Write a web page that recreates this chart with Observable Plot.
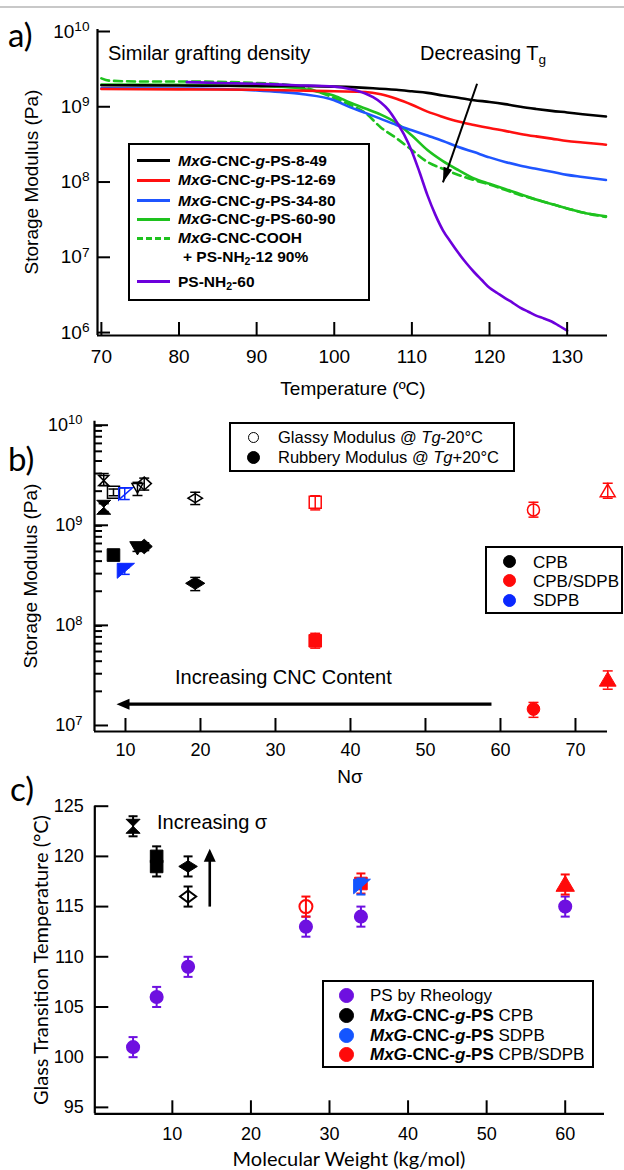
<!DOCTYPE html>
<html>
<head>
<meta charset="utf-8">
<script src="https://cdn.jsdelivr.net/npm/d3@7"></script>
<script src="https://cdn.jsdelivr.net/npm/@observablehq/plot@0.6"></script>
<style>
html,body{margin:0;padding:0;background:#fff;}
#root{position:relative;width:624px;height:1170px;overflow:hidden;background:#fff;font-family:"Liberation Sans",Arial,sans-serif;color:#000;}
.panel{position:absolute;left:0;}
.t{position:absolute;white-space:nowrap;line-height:1;z-index:5;}
.t sub{font-size:0.68em;vertical-align:-0.3em;line-height:0;}
.box{position:absolute;border:2px solid #000;box-sizing:border-box;z-index:4;background:transparent;}
.sw{position:absolute;height:0;z-index:5;}
.dotk{position:absolute;border-radius:50%;box-sizing:border-box;z-index:5;}
</style>
</head>
<body>
<div id="root"></div>
<script>
// ================= DATA =================
// ---- Panel a: storage modulus (Pa) vs temperature (°C)
const a849T  = [70,80,90,95,100,105,108,110,112,114,116,118,120,122,124,126,128,130,132,135];
const a849E  = [1.82e9,1.80e9,1.78e9,1.78e9,1.74e9,1.66e9,1.58e9,1.51e9,1.44e9,1.33e9,1.24e9,1.15e9,1.09e9,1.02e9,9.4e8,8.8e8,8.3e8,7.9e8,7.5e8,7.0e8];
const a1269T = [70,80,90,95,100,104,106,108,110,112,114,116,118,120,122,124,126,128,130,132,135];
const a1269E = [1.62e9,1.60e9,1.58e9,1.55e9,1.51e9,1.48e9,1.38e9,1.20e9,1.0e9,8.1e8,6.9e8,6.0e8,5.4e8,4.9e8,4.5e8,4.1e8,3.8e8,3.55e8,3.3e8,3.16e8,2.95e8];
const a3480T = [70,80,85,90,93,96,100,102,104,106,108,110,112,114,116,118,120,122,124,126,128,130,132,135];
const a3480E = [1.66e9,1.64e9,1.62e9,1.55e9,1.48e9,1.38e9,1.15e9,9.3e8,7.8e8,6.5e8,5.4e8,4.6e8,3.9e8,3.3e8,2.75e8,2.35e8,2.0e8,1.74e8,1.55e8,1.41e8,1.29e8,1.17e8,1.10e8,1.0e8];
const a6090T = [70,80,90,95,98,100,102,104,106,108,110,112,114,116,118,120,122,124,126,128,130,132,135];
const a6090E = [1.86e9,1.84e9,1.76e9,1.68e9,1.48e9,1.32e9,1.07e9,8.9e8,7.4e8,5.75e8,3.9e8,2.5e8,1.78e8,1.35e8,1.05e8,8.9e7,7.6e7,6.5e7,5.5e7,4.8e7,4.2e7,3.7e7,3.3e7];
const aCoohT = [70,71,75,80,90,95,98,100,102,104,106,108,110,112,114,116,118,120,122,124,126,128,130,132,135];
const aCoohE = [2.24e9,2.09e9,2.04e9,2.04e9,1.95e9,1.78e9,1.48e9,1.23e9,1.0e9,7.8e8,5.0e8,3.6e8,2.5e8,1.74e8,1.41e8,1.17e8,1.0e8,8.7e7,7.4e7,6.3e7,5.5e7,4.8e7,4.2e7,3.7e7,3.24e7];
const aPs60T = [81,85,90,95,100,102,104,105,106,107,108,109,110,111,112,113,114,115,116,117,118,119,120,121,122,123,124,125,126,127,128,129,130];
const aPs60E = [2.0e9,1.95e9,1.9e9,1.82e9,1.74e9,1.62e9,1.41e9,1.26e9,1.07e9,8.5e8,6.0e8,4.0e8,2.4e8,1.26e8,6.3e7,3.5e7,2.15e7,1.5e7,1.07e7,7.9e6,6.0e6,4.7e6,3.7e6,3.16e6,2.7e6,2.34e6,2.0e6,1.78e6,1.58e6,1.45e6,1.32e6,1.15e6,1.0e6];
const aSeriesNames = ["MxG-CNC-g-PS-8-49","MxG-CNC-g-PS-12-69","MxG-CNC-g-PS-34-80","MxG-CNC-g-PS-60-90","MxG-CNC-COOH + PS-NH2-12 90%","PS-NH2-60"];
const aTicksX = [70,80,90,100,110,120,130];
const aTicksY = [1e6,1e7,1e8,1e9,1e10];
const aDomainX = [69.5,135.2];
const aDomainY = [8.6e5,1e10];
const aArrow = {x1:118.4, y1:1.9e9, x2:114.0, y2:9.3e7};

// ---- Panel b: modulus vs Nσ
const bN         = [7.1, 8.4, 9.9, 11.6, 12.5, 19.3, 35.3, 64.4, 74.3];
const bProcess   = ["CPB","CPB","SDPB","CPB","CPB","CPB","CPB/SDPB","CPB/SDPB","CPB/SDPB"];
const bSymbol    = ["hourglass","square","flag","triDown","rhombus","diamond","square","circle","triUp"];
const bGlassy    = [2.55e9,1.95e9,1.88e9,2.17e9,2.38e9,1.70e9,1.55e9,1.30e9,2.00e9];
const bGlassyLo  = [2.27e9,1.80e9,1.65e9,1.81e9,2.05e9,1.47e9,1.30e9,1.10e9,1.70e9];
const bGlassyHi  = [3.00e9,2.10e9,2.15e9,2.45e9,2.70e9,1.95e9,1.80e9,1.55e9,2.40e9];
const bRubbery   = [1.38e9,4.6e8,3.2e8,5.5e8,5.6e8,2.4e8,6.4e7,1.33e7,2.6e7];
const bRubberyLo = [1.25e9,4.2e8,2.95e8,5.0e8,5.1e8,2.03e8,5.4e7,1.10e7,2.1e7];
const bRubberyHi = [1.50e9,5.1e8,3.45e8,6.1e8,6.1e8,2.75e8,7.6e7,1.55e7,3.2e7];
const bTicksX = [10,20,30,40,50,60,70];
const bTicksY = [1e7,1e8,1e9,1e10];
const bDomainX = [5.87,74.27];
const bDomainY = [7.94e6,1e10];
const bArrow = {x1:58.8, x2:10.2, tip:8.8, y:1.49e7};

// ---- Panel c: Tg vs molecular weight
const cPsMw  = [5,8,12,27,34,60];
const cPsTg  = [101,106,109,113,114,115];
const cPsErr = [1,1,1,1,1,1];
const cGrMw      = [5,8,8,12,12,27,34,34,60];
const cGrTg      = [123,120,119,119,116,115,117.3,117,117.2];
const cGrErr     = [1,1,1,1,1,1,1,0.8,1];
const cGrProcess = ["CPB","CPB","CPB","CPB","CPB","CPB/SDPB","CPB/SDPB","SDPB","CPB/SDPB"];
const cGrSymbol  = ["hourglass","square","square","diamond","diamond2","circle","square","flag","triUp"];
const cGrFilled  = [true,true,true,true,false,false,true,true,true];
const cTicksX = [10,20,30,40,50,60];
const cTicksY = [95,100,105,110,115,120,125];
const cDomainX = [0.13,65];
const cDomainY = [94.36,125];
const cArrow = {x:14.76, y1:115, y2:119.9, tip:120.75};

// ================= STYLE =================
const colA = ["#000000","#ff1010","#1f55ff","#1ec21e","#1ec21e","#6c00dc"];
const procColB = {"CPB":"#000000","CPB/SDPB":"#ff0a0a","SDPB":"#0a28ff"};
const procColC = {"CPB":"#000000","CPB/SDPB":"#ff0a0a","SDPB":"#1455ff","PS":"#6e10e0"};
const FONT = '"Liberation Sans", Arial, sans-serif';

const rOf = s => Math.sqrt(s/Math.PI);
const SYM = {
  hourglass:{draw(c,s){const r=rOf(s);c.moveTo(-r,-r);c.lineTo(r,-r);c.lineTo(-r,r);c.lineTo(r,r);c.closePath();}},
  square:{draw(c,s){const r=rOf(s);c.moveTo(-r,-r);c.lineTo(r,-r);c.lineTo(r,r);c.lineTo(-r,r);c.closePath();}},
  triDown:{draw(c,s){const r=rOf(s);c.moveTo(-1.1*r,-0.8*r);c.lineTo(1.1*r,-0.8*r);c.lineTo(0,1.1*r);c.closePath();}},
  triUp:{draw(c,s){const r=rOf(s);c.moveTo(0,-1.1*r);c.lineTo(1.15*r,0.85*r);c.lineTo(-1.15*r,0.85*r);c.closePath();}},
  diamond:{draw(c,s){const r=rOf(s);c.moveTo(-1.6*r,0);c.lineTo(0,-r);c.lineTo(1.6*r,0);c.lineTo(0,r);c.closePath();}},
  diamond2:{draw(c,s){const r=rOf(s);c.moveTo(-1.35*r,0);c.lineTo(0,-r);c.lineTo(1.35*r,0);c.lineTo(0,r);c.closePath();}},
  rhombus:{draw(c,s){const r=rOf(s);c.moveTo(-1.1*r,0);c.lineTo(0,-r);c.lineTo(1.1*r,0);c.lineTo(0,r);c.closePath();}},
  circle:{draw(c,s){const r=rOf(s);c.moveTo(r,0);c.arc(0,0,r,0,2*Math.PI);c.closePath();}},
  flag:{draw(c,s){const r=rOf(s);c.moveTo(-r,-r);c.lineTo(1.3*r,-r);c.lineTo(-r,r);c.closePath();}},
  cap:{draw(c,s){const r=rOf(s);c.moveTo(-r,0);c.lineTo(r,0);}}
};
function head(L, w, deg){
  const t = deg*Math.PI/180, co=Math.cos(t), si=Math.sin(t);
  const rot = (x,y)=>[x*co - y*si, x*si + y*co];
  return {draw(c){const p1=rot(w,L), p2=rot(-w,L); c.moveTo(0,0); c.lineTo(p1[0],p1[1]); c.lineTo(p2[0],p2[1]); c.closePath();}};
}
const sizeB = {hourglass:[5,7], square:[6,6.3], flag:[6,7.5], triDown:[5,7], rhombus:[6.5,7.3], diamond:[4.5,6], circle:[6,6.3], triUp:[6.5,7.3]};
const sizeC = {hourglass:7, square:6.3, diamond:5.8, diamond2:6, circle:6.5, flag:7.3, triUp:8};

const plotStyle = {fontFamily: FONT, fontSize:"19px", color:"#000", background:"transparent", overflow:"visible"};

// ================= HELPERS =================
const root = document.getElementById("root");
function txt(html, x, y, o = {}) {
  const d = document.createElement("div");
  d.className = "t";
  d.innerHTML = html;
  d.style.left = x + "px"; d.style.top = y + "px";
  d.style.fontSize = (o.size || 19) + "px";
  if (o.family) d.style.fontFamily = o.family;
  if (o.weight) d.style.fontWeight = o.weight;
  const ax = o.anchor === "middle" ? "-50%" : o.anchor === "end" ? "-100%" : "0";
  d.style.transform = o.rotate ? `translate(-50%,-50%) rotate(${o.rotate}deg)` : `translate(${ax},-50%)`;
  root.appendChild(d);
  return d;
}
function box(x, y, w, h){ const d=document.createElement("div"); d.className="box"; Object.assign(d.style,{left:x+"px",top:y+"px",width:w+"px",height:h+"px"}); root.appendChild(d); }
function swatch(x1, x2, y, color, dash){ const d=document.createElement("div"); d.className="sw"; Object.assign(d.style,{left:x1+"px",top:(y-1.5)+"px",width:(x2-x1)+"px",borderTop:`3px ${dash?"dashed":"solid"} ${color}`}); root.appendChild(d); }
function legDot(cx, cy, r, color, filled){ const d=document.createElement("div"); d.className="dotk"; Object.assign(d.style,{left:(cx-r)+"px",top:(cy-r)+"px",width:2*r+"px",height:2*r+"px",background:filled?color:"#fff",border:`1.5px solid ${color}`}); root.appendChild(d); }
function mount(svg, top){ const d=document.createElement("div"); d.className="panel"; d.style.top=top+"px"; d.appendChild(svg); root.appendChild(d); superscript(svg); }
function superscript(svg){
  d3.select(svg).selectAll('g[aria-label="y-axis tick label"] text').each(function(){
    const m = /^10\^(\d+)$/.exec(this.textContent);
    if (!m) return;
    this.textContent = "10";
    d3.select(this).append("tspan").attr("dy","-0.5em").attr("font-size","0.72em").text(m[1]);
  });
}
const supFmt = d => "10^" + Math.round(Math.log10(d));
function errorBars(rows, x, lo, hi, color, sw, capR){
  return [
    Plot.ruleX(rows, {x, y1: lo, y2: hi, stroke: color, strokeWidth: sw}),
    Plot.dot(rows, {x, y: lo, symbol: SYM.cap, r: capR, stroke: color, fill: "none", strokeWidth: sw}),
    Plot.dot(rows, {x, y: hi, symbol: SYM.cap, r: capR, stroke: color, fill: "none", strokeWidth: sw})
  ];
}

// top gray rule
const g = document.createElement("div"); Object.assign(g.style,{position:"absolute",left:"0",top:"6px",width:"624px",height:"2px",background:"#c8c8c8"}); root.appendChild(g);

// ================= PANEL A =================
const aData = [[a849T,a849E],[a1269T,a1269E],[a3480T,a3480E],[a6090T,a6090E],[aCoohT,aCoohE],[aPs60T,aPs60E]]
  .map(([T,E],k) => T.map((t,i) => ({T:t, E:E[i], s:aSeriesNames[k]})));
const drawOrder = [3,4,2,1,0,5];
const plotA = Plot.plot({
  width:624, height:400, marginLeft:97, marginRight:17, marginTop:29, marginBottom:65,
  style: plotStyle,
  x:{type:"linear", domain:aDomainX},
  y:{type:"log", domain:aDomainY},
  marks:[
    ...drawOrder.map(k => Plot.line(aData[k], {x:"T", y:"E", stroke:colA[k], strokeWidth:2.6, curve:"monotone-x", strokeDasharray: k===4 ? "8,5" : null})),
    Plot.link([aArrow], {x1:"x1", y1:"y1", x2:"x2", y2:"y2", stroke:"#000", strokeWidth:2}),
    Plot.dot([aArrow], {x:"x2", y:"y2", symbol: head(15, 4.5, 199), fill:"#000", stroke:"none", r:5}),
    Plot.ruleX([aDomainX[0]], {strokeWidth:2.2}),
    Plot.ruleY([aDomainY[0]], {strokeWidth:2.2}),
    Plot.axisY({ticks:aTicksY, tickFormat:supFmt, tickSize:-13, tickPadding:21, strokeWidth:2, fontSize:19, dy:2, label:null}),
    Plot.axisX({ticks:aTicksX, tickFormat:d=>String(d), tickSize:-13, tickPadding:27, strokeWidth:2, fontSize:19, label:null})
  ]
});
mount(plotA, 0);

txt("a)", 8, 34, {size:33, family:"Lato, 'Open Sans', sans-serif"});
txt("Storage Modulus (Pa)", 31, 182, {size:19, rotate:-90});
txt("Temperature (ºC)", 353, 388, {size:19, anchor:"middle"});
txt("Similar grafting density", 108, 53, {size:20});
txt("Decreasing T<sub>g</sub>", 420, 53, {size:20});

// legend a
box(128, 143, 242, 158);
const aLegY = [160.7, 180, 200.7, 219, 238, 281.7];
const aLegHtml = [
  "<i>MxG</i>-CNC-<i>g</i>-PS-8-49","<i>MxG</i>-CNC-<i>g</i>-PS-12-69","<i>MxG</i>-CNC-<i>g</i>-PS-34-80",
  "<i>MxG</i>-CNC-<i>g</i>-PS-60-90","<i>MxG</i>-CNC-COOH","PS-NH<sub>2</sub>-60"];
aLegY.forEach((y,k) => { swatch(137, 170, y, colA[k], k===4); txt(aLegHtml[k], 178, y, {size:15.5, weight:"bold"}); });
txt("+ PS-NH<sub>2</sub>-12 90%", 183, 257, {size:15.5, weight:"bold"});

// ================= PANEL B =================
const bRows = bN.map((n,i) => ({N:n, g:bGlassy[i], gl:bGlassyLo[i], gh:bGlassyHi[i], r:bRubbery[i], rl:bRubberyLo[i], rh:bRubberyHi[i], c:procColB[bProcess[i]], sym:bSymbol[i]}));
const bMinor = [];
for (const dec of [1e7,1e8,1e9]) for (let k=2;k<=9;k++) bMinor.push(dec*k);
const bMarks = [];
bRows.forEach(d => {
  bMarks.push(...errorBars([d], "N", "gl", "gh", d.c, 1.5, 5));
  bMarks.push(...errorBars([d], "N", "rl", "rh", d.c, 1.5, 5));
});
bRows.forEach(d => {
  const [ro, rf] = sizeB[d.sym];
  bMarks.push(Plot.dot([d], {x:"N", y:"g", symbol:SYM[d.sym], r:ro, fill:"none", stroke:d.c, strokeWidth:1.5}));
  bMarks.push(Plot.dot([d], {x:"N", y:"r", symbol:SYM[d.sym], r:rf, fill:d.c, stroke:d.c, strokeWidth:1}));
});
const plotB = Plot.plot({
  width:624, height:385, marginLeft:94, marginRight:17, marginTop:20.7, marginBottom:54,
  style: plotStyle,
  x:{type:"linear", domain:bDomainX},
  y:{type:"log", domain:bDomainY},
  marks:[
    ...bMarks,
    Plot.link([bArrow], {x1:"x1", x2:"x2", y1:"y", y2:"y", stroke:"#000", strokeWidth:3.3}),
    Plot.dot([bArrow], {x:"tip", y:"y", symbol: head(13, 5.5, -90), fill:"#000", stroke:"none", r:5}),
    Plot.ruleX([bDomainX[0]], {strokeWidth:2.2}),
    Plot.ruleY([bDomainY[0]], {strokeWidth:2.2}),
    Plot.axisY({ticks:bMinor, tickFormat:()=>"", tickSize:-8, strokeWidth:2, label:null}),
    Plot.axisY({ticks:bTicksY, tickFormat:supFmt, tickSize:-14, tickPadding:26, strokeWidth:2, fontSize:18, dy:4, label:null}),
    Plot.axisX({ticks:bTicksX, tickFormat:d=>String(d), tickSize:-13, tickPadding:25, strokeWidth:2, fontSize:18, label:null})
  ]
});
mount(plotB, 400);

txt("b)", 8, 458, {size:33, family:"Lato, 'Open Sans', sans-serif"});
txt("Storage Modulus (Pa)", 30, 576, {size:19, rotate:-90});
txt("Nσ", 350, 776, {size:19, anchor:"middle"});
txt("Increasing CNC Content", 175, 677, {size:20});

box(229, 421.7, 286, 50);
legDot(253.3, 437.3, 5.5, "#000", false);
legDot(253.3, 457.3, 6.5, "#000", true);
txt("Glassy Modulus @ <i>Tg</i>-20°C", 278, 437.3, {size:16.5});
txt("Rubbery Modulus @ <i>Tg</i>+20°C", 278, 457.3, {size:16.5});

box(485, 545.7, 138, 68.5);
const bLegProc = ["CPB","CPB/SDPB","SDPB"];
[561.7, 580.7, 600].forEach((y,k) => { legDot(509.3, y, 6.5, procColB[bLegProc[k]], true); txt(bLegProc[k], 533, y, {size:17}); });

// ================= PANEL C =================
const cPs = cPsMw.map((m,i) => ({M:m, T:cPsTg[i], lo:cPsTg[i]-cPsErr[i], hi:cPsTg[i]+cPsErr[i]}));
const cGr = cGrMw.map((m,i) => ({M:m, T:cGrTg[i], lo:cGrTg[i]-cGrErr[i], hi:cGrTg[i]+cGrErr[i], c:procColC[cGrProcess[i]], sym:cGrSymbol[i], f:cGrFilled[i]}));
const cMarks = [
  ...errorBars(cPs, "M", "lo", "hi", procColC.PS, 2, 4.5),
  Plot.dot(cPs, {x:"M", y:"T", symbol:SYM.circle, r:6.3, fill:procColC.PS, stroke:procColC.PS})
];
cGr.forEach(d => {
  cMarks.push(...errorBars([d], "M", "lo", "hi", d.c, 2, 4.5));
  cMarks.push(Plot.dot([d], {x:"M", y:"T", symbol:SYM[d.sym], r:sizeC[d.sym], fill:d.f ? d.c : "none", stroke:d.c, strokeWidth: d.f ? 1 : 2}));
});
const plotC = Plot.plot({
  width:624, height:385, marginLeft:94.3, marginRight:20, marginTop:20.7, marginBottom:56.7,
  style: plotStyle,
  x:{type:"linear", domain:cDomainX},
  y:{type:"linear", domain:cDomainY},
  marks:[
    ...cMarks,
    Plot.link([cArrow], {x1:"x", x2:"x", y1:"y1", y2:"y2", stroke:"#000", strokeWidth:2.6}),
    Plot.dot([cArrow], {x:"x", y:"tip", symbol: head(13, 6, 0), fill:"#000", stroke:"none", r:5}),
    Plot.ruleX([cDomainX[0]], {strokeWidth:2.2}),
    Plot.ruleY([cDomainY[0]], {strokeWidth:2.2}),
    Plot.axisY({ticks:cTicksY, tickFormat:d=>String(d), tickSize:-14, tickPadding:25, strokeWidth:2, fontSize:18, label:null}),
    Plot.axisX({ticks:cTicksX, tickFormat:d=>String(d), tickSize:-13, tickPadding:26, strokeWidth:2, fontSize:18, label:null})
  ]
});
mount(plotC, 785);

txt("c)", 10, 788, {size:33, family:"Lato, 'Open Sans', sans-serif"});
txt("Glass Transition Temperature (°C)", 40, 960, {size:20, rotate:-90, family:"Lato, 'Open Sans', sans-serif"});
txt("Molecular Weight (kg/mol)", 349, 1158, {size:20, anchor:"middle", family:"Lato, 'Open Sans', sans-serif"});
txt("Increasing σ", 157, 821.7, {size:20});

box(321.7, 980, 272.6, 88.3);
const cLegKeys = ["PS","CPB","SDPB","CPB/SDPB"];
const cLegHtml = ["PS by Rheology","<b><i>MxG</i>-CNC-<i>g</i>-PS</b> CPB","<b><i>MxG</i>-CNC-<i>g</i>-PS</b> SDPB","<b><i>MxG</i>-CNC-<i>g</i>-PS</b> CPB/SDPB"];
[995, 1015, 1035, 1054.3].forEach((y,k) => { legDot(346, y, 7.5, procColC[cLegKeys[k]], true); txt(cLegHtml[k], 370, y, {size:17}); });
</script>
</body>
</html>
